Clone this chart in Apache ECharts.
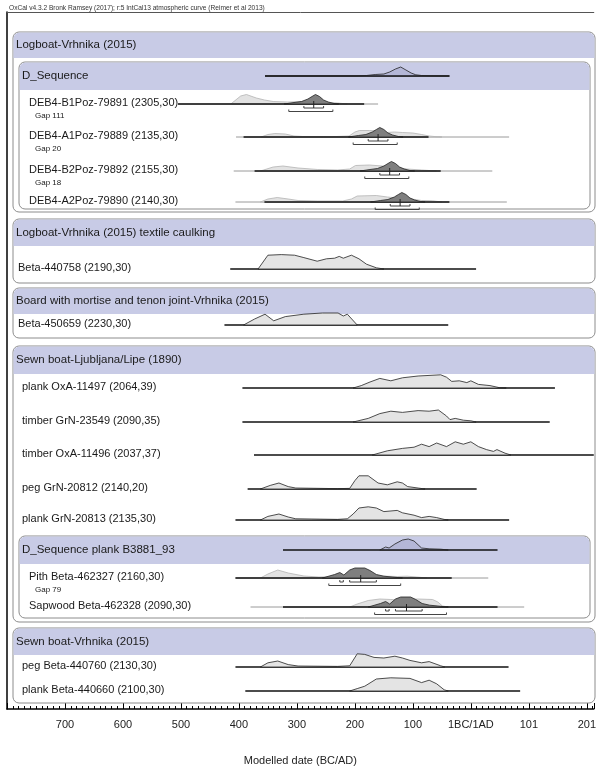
<!DOCTYPE html>
<html>
<head>
<meta charset="utf-8">
<script src="https://cdn.jsdelivr.net/npm/echarts@6/dist/echarts.min.js"></script>
<style>
html, body { margin: 0; padding: 0; background: #fff; }
#chart { width: 599px; height: 771px; }
</style>
</head>
<body>
<div id="chart"></div>
<script>
// years: negative = BC, positive = AD; densities are relative heights
const tickValues = [-700, -600, -500, -400, -300, -200, -100, 0, 100, 200];
const tickLabels = ['700', '600', '500', '400', '300', '200', '100', '1BC/1AD', '101', '201'];

// Logboat-Vrhnika (2015)
const seqLogboat = [[-355,0],[-200,0],[-180,0.5],[-165,1.5],[-150,2],[-140,4],[-130,7],[-121,9],[-112,6],[-103,3],[-95,1.2],[-85,0.5],[-70,0.2],[-37,0]];
const seqLogboatLine = [-355, -37];

const b1Like = [[-414,0],[-397,8],[-387,9.5],[-370,6],[-356,4],[-341,2.5],[-316,2],[-281,2.5],[-256,2],[-230,1],[-213,0]];
const b1Post = [[-322,0],[-305,1.5],[-292,2.5],[-281,5],[-274,7.5],[-268,9.5],[-261,7.5],[-254,4],[-246,2],[-236,0.5],[-228,0]];
const b1LikeLine = [-505, -160], b1PostLine = [-505, -184];
const b1R68 = [[-288, -254]], b1R95 = [[-314, -238]], b1Mean = -271;

const a1Like = [[-362,0],[-350,2.5],[-338,3.5],[-320,3],[-305,1],[-290,0.5],[-240,0.3],[-210,1],[-200,5],[-192,6.5],[-175,6.5],[-160,6],[-145,4.5],[-132,5],[-118,4.5],[-100,4],[-85,2.5],[-72,1],[-60,0.3],[-50,0]];
const a1Post = [[-211,0],[-194,1.5],[-181,2.5],[-170,5],[-163,7.5],[-157,9.5],[-150,7.5],[-143,4],[-135,2],[-125,0.5],[-117,0]];
const a1LikeLine = [-405, 66], a1PostLine = [-392, -73];
const a1R68 = [[-177, -143]], a1R95 = [[-203, -127]], a1Mean = -160;

const b2Like = [[-363,0],[-341,4],[-324,5],[-298,3],[-264,1.5],[-230,1],[-209,2],[-199,5.5],[-175,6],[-153,5],[-136,4],[-110,2],[-85,1],[-59,0]];
const b2Post = [[-191,0],[-174,1.5],[-161,2.5],[-150,5],[-143,7.5],[-137,9.5],[-130,7.5],[-123,4],[-115,2],[-105,0.5],[-97,0]];
const b2LikeLine = [-409, 37], b2PostLine = [-373, -52];
const b2R68 = [[-157, -123]], b2R95 = [[-183, -107]], b2Mean = -140;

const a2Like = [[-363,0],[-350,3],[-334,4.5],[-315,3],[-298,1.5],[-264,1],[-221,1],[-206,3],[-196,6],[-163,6.5],[-144,5],[-127,4],[-102,3],[-85,1.5],[-66,1.2],[-50,0]];
const a2Post = [[-173,0],[-156,1.5],[-143,2.5],[-132,5],[-125,7.5],[-119,9.5],[-112,7.5],[-105,4],[-97,2],[-87,0.5],[-79,0]];
const a2LikeLine = [-406, 62], a2PostLine = [-356, -37];
const a2R68 = [[-139, -105]], a2R95 = [[-165, -89]], a2Mean = -122;

// Logboat-Vrhnika (2015) textile caulking
const caulkLike = [[-367,0],[-350,11.5],[-327,12],[-304,11.5],[-288,9.5],[-265,6.5],[-249,8.5],[-235,9],[-227,10.5],[-220,9],[-206,11.5],[-193,8.5],[-180,4],[-163,1],[-150,0]];
const caulkLine = [-415, 9];

// Board with mortise and tenon joint
const boardLike = [[-392,0],[-373,5],[-355,9],[-340,3.5],[-320,7],[-288,9],[-256,10],[-229,10],[-220,7.5],[-213,9],[-196,0]];
const boardLine = [-425, -39];

// Sewn boat-Ljubljana/Lipe (1890)
const oxa11497 = [[-203,0],[-189,2],[-174,5],[-157,8],[-138,6],[-118,8.5],[-91,10],[-52,11],[-42,9],[-33,5.5],[-20,6],[-7,4.5],[0,6],[13,3],[33,2],[49,0.3],[61,0]];
const oxa11497Line = [-394, 145];
const grn23549 = [[-203,0],[-177,3],[-157,7],[-138,9],[-118,8],[-91,9.5],[-72,9],[-56,10],[-42,5],[-36,2],[-27,3],[-13,1.5],[0,1],[9,0]];
const grn23549Line = [-394, 136];
const oxa11496 = [[-170,0],[-144,3.5],[-118,5.5],[-98,6.5],[-85,9],[-72,7],[-59,10],[-42,7],[-27,11],[-13,9],[0,11],[13,7],[27,4.5],[39,3],[45,4.5],[59,1.5],[69,0]];
const oxa11496Line = [-374, 212];
const grn20812 = [[-363,0],[-346,3],[-331,5],[-315,2],[-302,0.8],[-230,0.3],[-209,0.5],[-200,7],[-193,11],[-177,11],[-160,5],[-144,3.5],[-127,6],[-118,5],[-109,2],[-91,0.8],[-79,0]];
const grn20812Line = [-385, 10];
const grn20813 = [[-363,0],[-350,3],[-331,5],[-315,2.5],[-302,1],[-230,0.5],[-213,1],[-203,5],[-193,10],[-177,11],[-163,10],[-150,7],[-127,8],[-118,6],[-98,4],[-85,2],[-72,3],[-59,2],[-46,0.5],[-39,0]];
const grn20813Line = [-406, 66];

const seqPlank = [[-157,0],[-147,3],[-141,2],[-131,6],[-118,10],[-108,11],[-98,9],[-85,2],[-72,1.2],[-52,0.8],[-39,0]];
const seqPlankLine = [-324, 46];

const pithLike = [[-363,0],[-350,4],[-333,8],[-315,5],[-288,2],[-262,1],[-230,1.5],[-204,2.5],[-162,2],[-127,1.5],[-110,1.8],[-93,1],[-76,0]];
const pithPost = [[-256,0],[-235,3.5],[-226,5.5],[-219,3],[-209,8],[-200,10],[-183,10],[-174,7.5],[-163,3.5],[-150,1.8],[-131,0.7],[-118,0]];
const pithLikeLine = [-406, 30], pithPostLine = [-406, -33];
const pithR68 = [[-226, -220], [-209, -163]], pithR95 = [[-245, -121]], pithMean = -190;

const sapLike = [[-209,0],[-196,3],[-177,6.5],[-157,8],[-138,7.5],[-119,7],[-91,8],[-66,7.5],[-57,5],[-49,1],[-39,0]];
const sapPost = [[-177,0],[-156,3.5],[-147,5.5],[-140,3],[-130,8],[-121,10],[-104,10],[-95,7.5],[-84,3.5],[-71,1.8],[-52,0.7],[-39,0]];
const sapLikeLine = [-380, 92], sapPostLine = [-324, 46];
const sapR68 = [[-147, -141], [-130, -84]], sapR95 = [[-166, -42]], sapMean = -111;

// Sewn boat-Vrhnika (2015)
const beta440760 = [[-363,0],[-350,3.5],[-333,5],[-315,2],[-298,0.8],[-230,0.5],[-209,1],[-196,11],[-183,10.5],[-167,8],[-150,7.5],[-131,9],[-118,7.5],[-105,5.5],[-85,3.5],[-72,4.5],[-52,1],[-45,0]];
const beta440760Line = [-406, 65];
const beta440660 = [[-209,0],[-196,2],[-183,4],[-163,10],[-138,11],[-105,10.5],[-85,7],[-72,9],[-59,6],[-46,1],[-39,0]];
const beta440660Line = [-389, 85];

// ---- layout (page pixels) ----
const FRAME_TOP = 12, AXIS_Y = 709;
const SINGLE_SCALE = 1.2;
const FONT = '"Liberation Sans", Arial, sans-serif';

const panels = [
  { title: 'Logboat-Vrhnika (2015)', top: 32, bottom: 212, band: 26 },
  { title: 'D_Sequence', top: 62, bottom: 209, band: 28, inner: true },
  { title: 'Logboat-Vrhnika (2015) textile caulking', top: 219, bottom: 283, band: 27 },
  { title: 'Board with mortise and tenon joint-Vrhnika (2015)', top: 288, bottom: 338, band: 26 },
  { title: 'Sewn boat-Ljubljana/Lipe (1890)', top: 346, bottom: 622, band: 28 },
  { title: 'D_Sequence plank B3881_93', top: 536, bottom: 618, band: 28, inner: true },
  { title: 'Sewn boat-Vrhnika (2015)', top: 628, bottom: 703, band: 27 }
];

const rows = [
  { y: 76, sum: seqLogboat, line: seqLogboatLine },
  { y: 103, x: 29, label: 'DEB4-B1Poz-79891 (2305,30)', like: b1Like, post: b1Post, likeLine: b1LikeLine, postLine: b1PostLine, r68: b1R68, r95: b1R95, mean: b1Mean },
  { y: 116, gap: 'Gap 111' },
  { y: 136, x: 29, label: 'DEB4-A1Poz-79889 (2135,30)', like: a1Like, post: a1Post, likeLine: a1LikeLine, postLine: a1PostLine, r68: a1R68, r95: a1R95, mean: a1Mean },
  { y: 149, gap: 'Gap 20' },
  { y: 170, x: 29, label: 'DEB4-B2Poz-79892 (2155,30)', like: b2Like, post: b2Post, likeLine: b2LikeLine, postLine: b2PostLine, r68: b2R68, r95: b2R95, mean: b2Mean },
  { y: 183, gap: 'Gap 18' },
  { y: 201, x: 29, label: 'DEB4-A2Poz-79890 (2140,30)', like: a2Like, post: a2Post, likeLine: a2LikeLine, postLine: a2PostLine, r68: a2R68, r95: a2R95, mean: a2Mean },
  { y: 268, x: 18, label: 'Beta-440758 (2190,30)', single: caulkLike, line: caulkLine },
  { y: 324, x: 18, label: 'Beta-450659 (2230,30)', single: boardLike, line: boardLine },
  { y: 387, x: 22, label: 'plank OxA-11497 (2064,39)', single: oxa11497, line: oxa11497Line },
  { y: 421, x: 22, label: 'timber GrN-23549 (2090,35)', single: grn23549, line: grn23549Line },
  { y: 454, x: 22, label: 'timber OxA-11496 (2037,37)', single: oxa11496, line: oxa11496Line },
  { y: 488, x: 22, label: 'peg GrN-20812 (2140,20)', single: grn20812, line: grn20812Line },
  { y: 519, x: 22, label: 'plank GrN-20813 (2135,30)', single: grn20813, line: grn20813Line },
  { y: 550, sum: seqPlank, line: seqPlankLine },
  { y: 577, x: 29, label: 'Pith Beta-462327 (2160,30)', like: pithLike, post: pithPost, likeLine: pithLikeLine, postLine: pithPostLine, r68: pithR68, r95: pithR95, mean: pithMean },
  { y: 590, gap: 'Gap 79' },
  { y: 606, x: 29, label: 'Sapwood Beta-462328 (2090,30)', like: sapLike, post: sapPost, likeLine: sapLikeLine, postLine: sapPostLine, r68: sapR68, r95: sapR95, mean: sapMean },
  { y: 666, x: 22, label: 'peg Beta-440760 (2130,30)', single: beta440760, line: beta440760Line },
  { y: 690, x: 22, label: 'plank Beta-440660 (2100,30)', single: beta440660, line: beta440660Line }
];

function seg(x1, y1, x2, y2, color, w) {
  return { type: 'line', shape: { x1: x1, y1: y1, x2: x2, y2: y2 }, style: { stroke: color, lineWidth: w } };
}

function area(api, dist, base, fill, stroke, lw, k) {
  const pts = dist.map(function (d) {
    const p = api.coord([d[0], base]);
    return [p[0], p[1] - d[1] * (k || 1)];
  });
  return { type: 'polygon', shape: { points: pts }, style: { fill: fill, stroke: stroke, lineWidth: lw } };
}

function label(text, x, y, size) {
  return { type: 'text', style: { text: text, x: x, y: y, fontSize: size, fontFamily: FONT, fill: '#1a1a1a', verticalAlign: 'middle', align: 'left' } };
}

function renderPanel(params, api) {
  const p = panels[params.dataIndex];
  const top = api.coord([0, p.top])[1];
  const bottom = api.coord([0, p.bottom])[1];
  const band = top + p.band;
  const x0 = p.inner ? 19 : 13, x1 = p.inner ? 590 : 595;
  return {
    type: 'group',
    children: [
      { type: 'rect', shape: { x: x0, y: top, width: x1 - x0, height: bottom - top, r: 6 }, style: { fill: '#fff', stroke: '#8c8c8c', lineWidth: 1 } },
      { type: 'rect', shape: { x: x0 + 0.5, y: top + 0.5, width: x1 - x0 - 1, height: band - top - 0.5, r: [6, 6, 0, 0] }, style: { fill: '#c8cbe6' } },
      label(p.title, x0 + 3, (top + band) / 2, 11.5)
    ]
  };
}

function renderRow(params, api) {
  const r = rows[params.dataIndex];
  const cy = api.coord([0, r.y])[1];
  const base = cy + 1;
  const X = function (v) { return api.coord([v, r.y])[0]; };
  const ch = [];
  if (r.gap) {
    ch.push(label(r.gap, 35, cy, 8));
    return { type: 'group', children: ch };
  }
  if (r.sum) {
    ch.push(seg(X(r.line[0]), cy, X(r.line[1]), cy, '#111', 1.3));
    ch.push(area(api, r.sum, r.y, 'rgba(120,124,170,0.25)', '#222', 0.8));
    return { type: 'group', children: ch };
  }
  if (r.single) {
    ch.push(seg(X(r.line[0]), base, X(r.line[1]), base, '#111', 1.3));
    ch.push(area(api, r.single, r.y + 1, '#e4e4e4', '#222', 0.8, SINGLE_SCALE));
  } else {
    ch.push(seg(X(r.likeLine[0]), base, X(r.likeLine[1]), base, '#9a9a9a', 1));
    ch.push(area(api, r.like, r.y + 1, '#e2e2e2', '#b4b4b4', 0.8));
    ch.push(seg(X(r.postLine[0]), base, X(r.postLine[1]), base, '#111', 1.3));
    ch.push(area(api, r.post, r.y + 1, '#7f7f7f', '#222', 0.8));
    r.r68.forEach(function (b) {
      const y = base + 4;
      ch.push(seg(X(b[0]), y, X(b[1]), y, '#444', 1));
      ch.push(seg(X(b[0]), y, X(b[0]), y - 2, '#444', 1));
      ch.push(seg(X(b[1]), y, X(b[1]), y - 2, '#444', 1));
    });
    r.r95.forEach(function (b) {
      const y = base + 7.5;
      ch.push(seg(X(b[0]), y, X(b[1]), y, '#444', 1));
      ch.push(seg(X(b[0]), y, X(b[0]), y - 2, '#444', 1));
      ch.push(seg(X(b[1]), y, X(b[1]), y - 2, '#444', 1));
    });
    ch.push(seg(X(r.mean), base - 3, X(r.mean), base + 4, '#222', 1));
  }
  ch.push(label(r.label, r.x, cy, 11));
  return { type: 'group', children: ch };
}

const chart = echarts.init(document.getElementById('chart'));
chart.setOption({
  animation: false,
  title: {
    text: 'OxCal v4.3.2 Bronk Ramsey (2017); r:5 IntCal13 atmospheric curve (Reimer et al 2013)',
    left: 4,
    top: 0,
    textStyle: { fontSize: 6.6, fontWeight: 'normal', color: '#333', fontFamily: FONT }
  },
  grid: { left: 7, right: 0, top: FRAME_TOP, bottom: 771 - AXIS_Y },
  xAxis: [
    {
      type: 'value',
      min: -800,
      max: 212,
      interval: 100,
      position: 'bottom',
      axisLine: { onZero: false, lineStyle: { color: '#000', width: 1.5 } },
      axisTick: { inside: true, length: 6, lineStyle: { color: '#000' } },
      minorTick: { show: true, splitNumber: 10, length: 3, lineStyle: { color: '#000' } },
      splitLine: { show: false },
      axisLabel: {
        showMinLabel: false,
        showMaxLabel: false,
        margin: 10,
        fontSize: 11,
        color: '#222',
        fontFamily: FONT,
        formatter: function (v) {
          const i = tickValues.indexOf(v);
          return i >= 0 ? tickLabels[i] : '';
        }
      },
      name: 'Modelled date (BC/AD)',
      nameLocation: 'middle',
      nameGap: 46,
      nameTextStyle: { fontSize: 11, color: '#222', fontFamily: FONT }
    },
    {
      type: 'value',
      min: -800,
      max: 212,
      position: 'top',
      axisLine: { onZero: false, lineStyle: { color: '#555', width: 1 } },
      axisTick: { show: false },
      axisLabel: { show: false },
      splitLine: { show: false }
    }
  ],
  yAxis: {
    type: 'value',
    min: FRAME_TOP,
    max: AXIS_Y,
    inverse: true,
    axisLine: { show: true, onZero: false, lineStyle: { color: '#000', width: 1.5 } },
    axisTick: { show: false },
    axisLabel: { show: false },
    splitLine: { show: false }
  },
  series: [
    {
      type: 'custom',
      renderItem: renderPanel,
      data: panels.map(function (p) { return [0, p.top]; }),
      z: 1,
      silent: true
    },
    {
      type: 'custom',
      renderItem: renderRow,
      data: rows.map(function (r) { return [0, r.y]; }),
      z: 2,
      clip: true,
      silent: true
    }
  ]
});
</script>
</body>
</html>
